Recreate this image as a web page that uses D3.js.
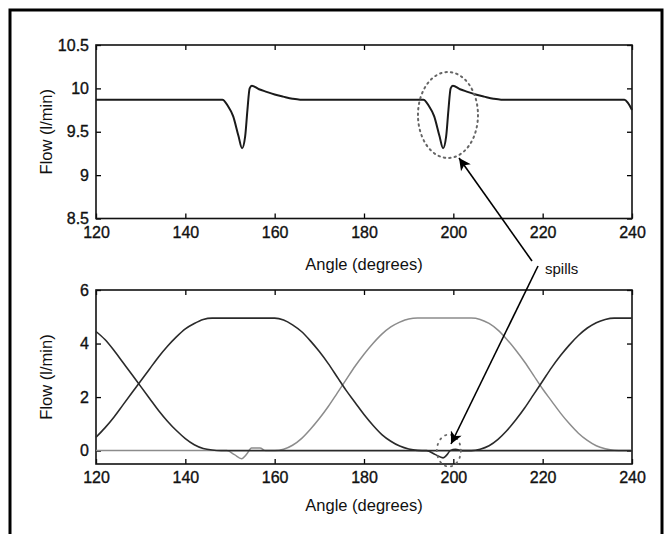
<!DOCTYPE html>
<html><head><meta charset="utf-8">
<script src="https://cdn.jsdelivr.net/npm/d3@7"></script>
<style>body{margin:0;background:#fff}svg{display:block}text{font-family:"Liberation Sans",Arial,sans-serif;fill:#111}</style>
</head><body><svg id="c" width="672" height="534"></svg>
<script>
// ---------- data ----------
const xTicks = [120,140,160,180,200,220,240];
const topYTicks = [8.5,9,9.5,10,10.5];
const topYLabels = ["8.5","9","9.5","10","10.5"];
const botYTicks = [0,2,4,6];
const xTitle = "Angle (degrees)";
const yTitle = "Flow (l/min)";
const noteText = "spills";

// total flow (top panel): [angle, flow]
const totalFlow = [
 [120,9.87],[148.3,9.87],[149.5,9.8],[150.7,9.68],[151.9,9.45],[152.7,9.31],[153.4,9.45],[153.9,9.75],[154.4,10.0],[154.9,10.03],
 [156.5,9.99],[158.2,9.96],[160,9.93],[161.9,9.905],[164,9.88],[165.7,9.87],
 [193.3,9.87],[194.5,9.8],[195.7,9.68],[196.9,9.45],[197.7,9.31],[198.4,9.45],[198.9,9.75],[199.4,10.0],[199.9,10.03],
 [201.5,9.99],[203.2,9.96],[205,9.93],[206.9,9.905],[209,9.88],[210.7,9.87],
 [238.3,9.87],[239,9.84],[239.5,9.8],[240,9.75]
];
// port flows (bottom panel): [angle, flow]
const portA = [ // dark, peak 146-160
 [120,0.5],[122,0.85],[124,1.25],[126,1.7],[128,2.15],[130,2.6],[132,3.05],[134,3.5],[136,3.9],[138,4.25],[140,4.55],[142,4.75],[144,4.9],[146,4.95],
 [160,4.95],[162,4.88],[164,4.7],[166,4.45],[168,4.1],[170,3.7],[172,3.25],[174,2.75],[176,2.25],[178,1.8],[180,1.35],[182,0.95],[184,0.6],[186,0.35],[188,0.17],[190,0.06],[192,0.01],[194,0],
 [240,0]
];
const portB = [ // grey, peak 191-205
 [120,0],[149.3,0],[151,-0.15],[152.6,-0.3],[153.8,-0.12],[154.8,0.1],[156.7,0.1],[158,0],
 [160,0],[162,0.05],[164,0.2],[166,0.45],[168,0.8],[170,1.2],[172,1.65],[174,2.15],[176,2.65],[178,3.15],[180,3.6],[182,4.0],[184,4.35],[186,4.62],[188,4.8],[190,4.92],[192,4.95],
 [204,4.95],[206,4.9],[208,4.75],[210,4.5],[212,4.15],[214,3.75],[216,3.3],[218,2.8],[220,2.3],[222,1.85],[224,1.4],[226,1.0],[228,0.65],[230,0.38],[232,0.18],[234,0.07],[236,0.01],[238,0],[240,0]
];
const portC = [ // dark, falling at left, rising at right
 [120,4.45],[122,4.15],[124,3.75],[126,3.3],[128,2.85],[130,2.4],[132,1.95],[134,1.5],[136,1.1],[138,0.75],[140,0.45],[142,0.22],[144,0.08],[146,0.02],[148,0],
 [194,0],[196,-0.15],[197.7,-0.27],[198.6,-0.15],[199.3,0.0],[200.5,0.05],[202,0],
 [204,0],[206,0.05],[208,0.18],[210,0.42],[212,0.75],[214,1.15],[216,1.6],[218,2.1],[220,2.6],[222,3.1],[224,3.55],[226,3.95],[228,4.3],[230,4.58],[232,4.78],[234,4.9],[236,4.95],[240,4.95]
];

// ---------- drawing ----------
const svg = d3.select("#c");
svg.append("rect").attr("x",10).attr("y",10).attr("width",652).attr("height",600)
  .attr("fill","none").attr("stroke","#000").attr("stroke-width",3);

const x0=96, x1=632;
const panels = [
  {top:45, bot:218.5, dom:[8.5,10.5], ticks:topYTicks, labels:topYLabels, titleY:270},
  {top:290, bot:464, dom:[-0.5,6], ticks:botYTicks, labels:botYTicks.map(String), titleY:511}
];
const xs = d3.scaleLinear().domain([120,240]).range([x0,x1]);
const ysArr = panels.map(p=>d3.scaleLinear().domain(p.dom).range([p.bot,p.top]));

panels.forEach((p,i)=>{
  const ys = ysArr[i];
  const g = svg.append("g");
  const ax = (sel)=>{sel.select(".domain").remove(); sel.selectAll("line").attr("stroke","#000").attr("stroke-width",1.3);};
  const lbl = (sel)=>sel.selectAll("text").attr("font-size",16).attr("fill","#111").attr("stroke","#111").attr("stroke-width",0.35);
  g.append("g").attr("transform",`translate(0,${p.bot})`)
    .call(d3.axisBottom(xs).tickValues(xTicks).tickSizeInner(-5).tickSizeOuter(0).tickPadding(8))
    .call(ax).call(lbl);
  g.append("g").attr("transform",`translate(0,${p.top})`)
    .call(d3.axisTop(xs).tickValues(xTicks).tickSizeInner(-5).tickSizeOuter(0).tickFormat(""))
    .call(ax);
  g.append("g").attr("transform",`translate(${x0},0)`)
    .call(d3.axisLeft(ys).tickValues(p.ticks).tickSizeInner(-5).tickSizeOuter(0).tickPadding(7).tickFormat((d,k)=>p.labels[k]))
    .call(ax).call(lbl);
  g.append("g").attr("transform",`translate(${x1},0)`)
    .call(d3.axisRight(ys).tickValues(p.ticks).tickSizeInner(-5).tickSizeOuter(0).tickFormat(""))
    .call(ax);
  g.append("rect").attr("x",x0).attr("y",p.top).attr("width",x1-x0).attr("height",p.bot-p.top)
    .attr("fill","none").attr("stroke","#111").attr("stroke-width",1.6);
  g.append("text").attr("x",(x0+x1)/2).attr("y",p.titleY).attr("text-anchor","middle")
    .attr("font-size",16.5).text(xTitle);
  g.append("text").attr("transform",`translate(52,${(p.top+p.bot)/2}) rotate(-90)`).attr("text-anchor","middle")
    .attr("font-size",16.5).text(yTitle);
});

const lineTop = d3.line().x(d=>xs(d[0])).y(d=>ysArr[0](d[1])).curve(d3.curveMonotoneX);
const lineBot = d3.line().x(d=>xs(d[0])).y(d=>ysArr[1](d[1])).curve(d3.curveMonotoneX);

svg.append("path").attr("d",lineTop(totalFlow)).attr("fill","none").attr("stroke","#1a1a1a").attr("stroke-width",2);
svg.append("path").attr("d",lineBot(portB)).attr("fill","none").attr("stroke","#8c8c8c").attr("stroke-width",1.5);
svg.append("path").attr("d",lineBot(portC)).attr("fill","none").attr("stroke","#2a2a2a").attr("stroke-width",1.6);
svg.append("path").attr("d",lineBot(portA)).attr("fill","none").attr("stroke","#2a2a2a").attr("stroke-width",1.6);

// dotted ellipses
svg.append("ellipse").attr("cx",xs(198.8)).attr("cy",115).attr("rx",30).attr("ry",43)
  .attr("fill","none").attr("stroke","#666").attr("stroke-width",2).attr("stroke-dasharray","1.5,4").attr("stroke-linecap","round");
svg.append("ellipse").attr("cx",xs(199)).attr("cy",ysArr[1](0)).attr("rx",12).attr("ry",16)
  .attr("fill","none").attr("stroke","#666").attr("stroke-width",1.8).attr("stroke-dasharray","1.2,5").attr("stroke-linecap","round");

// arrows
const defs = svg.append("defs");
defs.append("marker").attr("id","ah").attr("viewBox","0 0 10 10").attr("refX",10).attr("refY",5)
  .attr("markerWidth",14).attr("markerHeight",12).attr("markerUnits","userSpaceOnUse").attr("orient","auto")
  .append("path").attr("d","M0,0 L10,5 L0,10 L2.5,5 Z").attr("fill","#000");
svg.append("line").attr("x1",532).attr("y1",261).attr("x2",459).attr("y2",158)
  .attr("stroke","#000").attr("stroke-width",1.6).attr("marker-end","url(#ah)");
svg.append("line").attr("x1",538).attr("y1",266).attr("x2",451).attr("y2",444)
  .attr("stroke","#000").attr("stroke-width",1.6).attr("marker-end","url(#ah)");
svg.append("text").attr("x",545).attr("y",274).attr("font-size",15).text(noteText);
</script></body></html>
